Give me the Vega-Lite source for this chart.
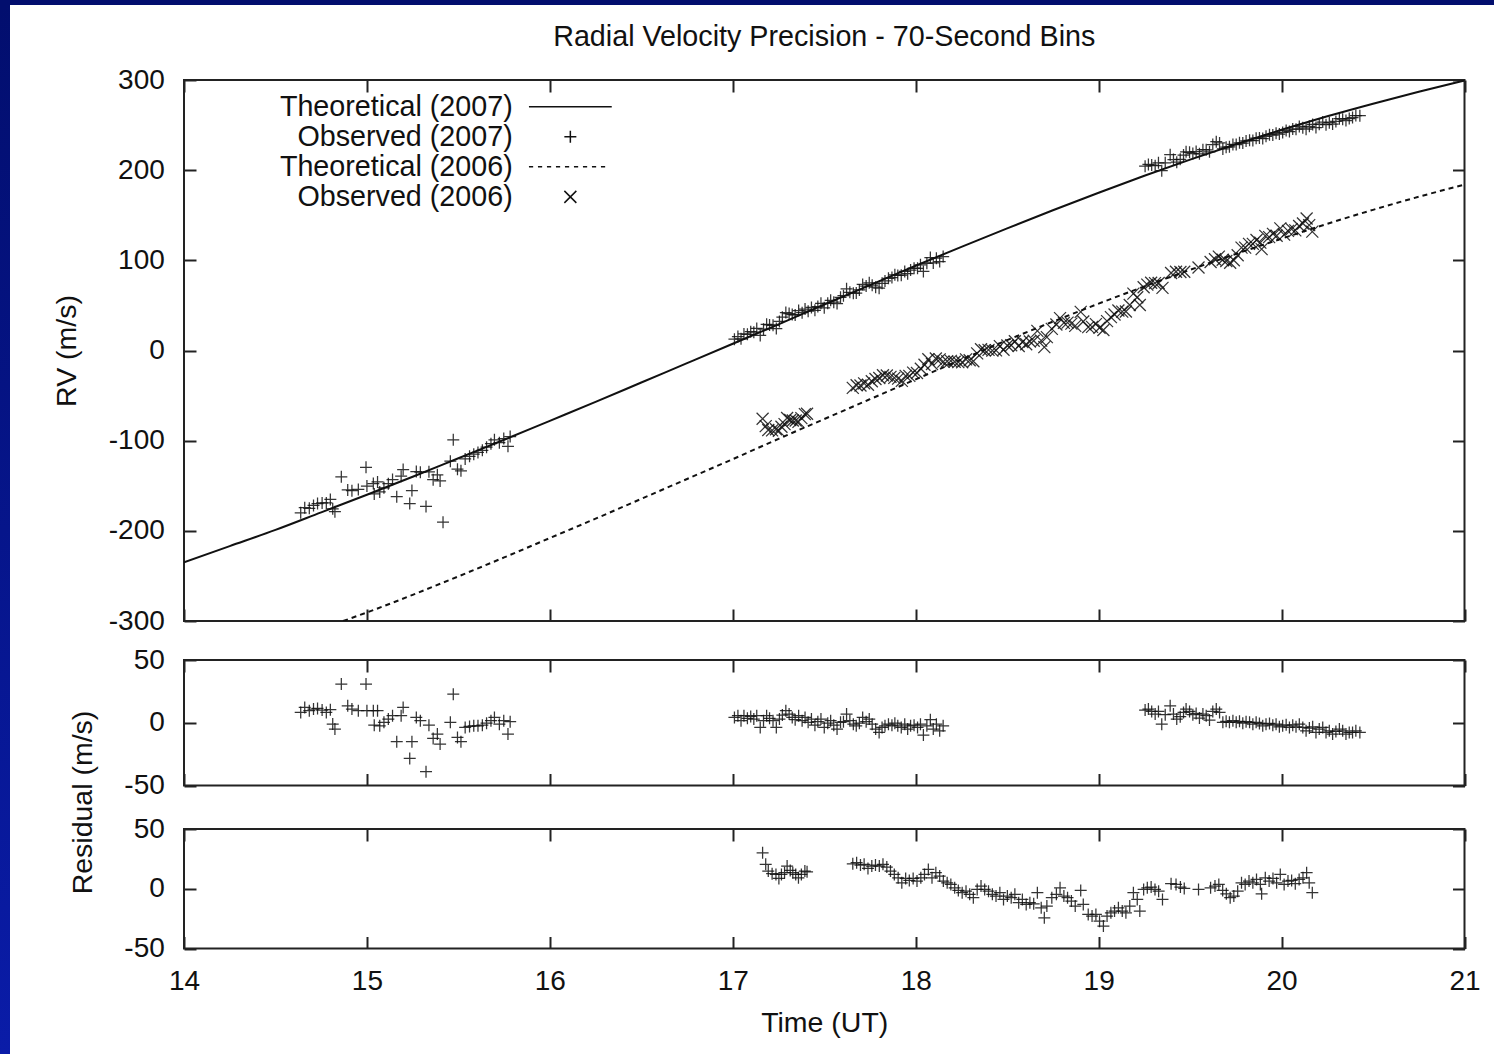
{
  "$schema": "https://vega.github.io/schema/vega-lite/v6.json",
  "background": "white",
  "padding": 0,
  "autosize": {"type": "pad"},
  "bounds": "flush",
  "spacing": 0,
  "config": {
    "font": "Liberation Sans",
    "view": {"stroke": "#222", "strokeWidth": 2},
    "axis": {"domain": false, "grid": false, "ticks": true, "tickSize": -12, "tickWidth": 2, "tickColor": "#222", "labelFontSize": 28, "labelColor": "#111", "labelFlush": false, "labelOverlap": false, "titleFontSize": 28.5, "titleColor": "#111", "titleFontWeight": "normal", "labelPadding": 31.7, "labelExpr": "replace(datum.label, '\u2212', '-')"}
  },
  "datasets": {
    "th07": [
      {"t":14.0,"rv":-235},{"t":14.25,"rv":-217},{"t":14.5,"rv":-199},{"t":14.75,"rv":-179.5},{"t":15.0,"rv":-160},{"t":15.25,"rv":-140},{"t":15.5,"rv":-119.5},{"t":15.75,"rv":-99},{"t":16.0,"rv":-78},{"t":16.25,"rv":-57},{"t":16.5,"rv":-35.5},{"t":16.75,"rv":-14},{"t":17.0,"rv":7.5},{"t":17.25,"rv":29},{"t":17.5,"rv":51},{"t":17.75,"rv":72.5},{"t":18.0,"rv":94},{"t":18.25,"rv":115},{"t":18.5,"rv":135.5},{"t":18.75,"rv":155.5},{"t":19.0,"rv":175},{"t":19.25,"rv":193.75},{"t":19.5,"rv":211.75},{"t":19.75,"rv":228.75},{"t":20.0,"rv":244.75},{"t":20.25,"rv":259.75},{"t":20.5,"rv":273.75},{"t":20.75,"rv":287},{"t":21.0,"rv":299.5}
    ],
    "th06": [
      {"t":14.87,"rv":-300},{"t":15.0,"rv":-290.5},{"t":15.25,"rv":-271},{"t":15.5,"rv":-250.5},{"t":15.75,"rv":-229.5},{"t":16.0,"rv":-208},{"t":16.25,"rv":-186.5},{"t":16.5,"rv":-164.5},{"t":16.75,"rv":-142.5},{"t":17.0,"rv":-120.5},{"t":17.25,"rv":-98},{"t":17.5,"rv":-76},{"t":17.75,"rv":-54},{"t":18.0,"rv":-32},{"t":18.25,"rv":-10},{"t":18.5,"rv":11.5},{"t":18.75,"rv":32},{"t":19.0,"rv":52},{"t":19.25,"rv":71},{"t":19.5,"rv":89.5},{"t":19.75,"rv":107},{"t":20.0,"rv":124},{"t":20.25,"rv":140.5},{"t":20.5,"rv":156},{"t":20.75,"rv":170.5},{"t":21.0,"rv":184}
    ],
    "obs07": [
      {"t":14.638,"rv":-180.0,"res":8.2},{"t":14.66,"rv":-174.3,"res":12.2},{"t":14.685,"rv":-175.0,"res":9.6},{"t":14.708,"rv":-171.9,"res":10.9},{"t":14.73,"rv":-169.7,"res":11.4},{"t":14.755,"rv":-169.0,"res":10.1},{"t":14.778,"rv":-169.1,"res":8.2},{"t":14.8,"rv":-165.2,"res":10.4},{"t":14.813,"rv":-175.6,"res":-1.0},{"t":14.825,"rv":-178.7,"res":-5.0},{"t":14.86,"rv":-140.1,"res":30.8},{"t":14.895,"rv":-154.7,"res":13.5},{"t":14.918,"rv":-155.5,"res":10.9},{"t":14.953,"rv":-154.1,"res":9.6},{"t":14.995,"rv":-129.6,"res":30.8},{"t":15.0,"rv":-150.4,"res":9.6},{"t":15.035,"rv":-147.6,"res":9.6},{"t":15.058,"rv":-145.8,"res":9.6},{"t":15.04,"rv":-159.1,"res":-1.9},{"t":15.07,"rv":-156.8,"res":-2.4},{"t":15.093,"rv":-152.3,"res":0.3},{"t":15.117,"rv":-147.7,"res":2.9},{"t":15.14,"rv":-143.2,"res":5.6},{"t":15.163,"rv":-162.1,"res":-15.1},{"t":15.187,"rv":-139.4,"res":5.6},{"t":15.198,"rv":-132.0,"res":12.2},{"t":15.234,"rv":-169.7,"res":-28.4},{"t":15.246,"rv":-155.4,"res":-15.1},{"t":15.27,"rv":-134.2,"res":4.2},{"t":15.292,"rv":-135.0,"res":1.6},{"t":15.323,"rv":-173.0,"res":-39.0},{"t":15.339,"rv":-134.6,"res":-1.9},{"t":15.362,"rv":-143.3,"res":-12.5},{"t":15.385,"rv":-137.9,"res":-9.0},{"t":15.4,"rv":-144.7,"res":-17.0},{"t":15.416,"rv":-190.4,"res":-64.0},{"t":15.456,"rv":-122.8,"res":0.3},{"t":15.472,"rv":-99.0,"res":22.8},{"t":15.495,"rv":-131.6,"res":-11.7},{"t":15.514,"rv":-133.5,"res":-15.1},{"t":15.537,"rv":-120.2,"res":-3.7},{"t":15.561,"rv":-117.4,"res":-2.9},{"t":15.584,"rv":-115.0,"res":-2.4},{"t":15.607,"rv":-113.1,"res":-2.4},{"t":15.631,"rv":-110.7,"res":-1.9},{"t":15.654,"rv":-107.2,"res":-0.3},{"t":15.678,"rv":-103.3,"res":1.6},{"t":15.697,"rv":-99.1,"res":4.2},{"t":15.724,"rv":-102.2,"res":-1.1},{"t":15.748,"rv":-97.6,"res":1.6},{"t":15.771,"rv":-106.2,"res":-9.0},{"t":15.783,"rv":-95.4,"res":0.8},
      {"t":17.009,"rv":12.5,"res":4.2},{"t":17.028,"rv":15.5,"res":5.6},{"t":17.045,"rv":13.0,"res":1.6},{"t":17.061,"rv":18.3,"res":5.6},{"t":17.08,"rv":17.9,"res":3.5},{"t":17.098,"rv":20.9,"res":5.0},{"t":17.115,"rv":20.3,"res":2.9},{"t":17.131,"rv":24.4,"res":5.6},{"t":17.15,"rv":16.7,"res":-3.7},{"t":17.168,"rv":23.6,"res":1.6},{"t":17.185,"rv":29.0,"res":5.6},{"t":17.201,"rv":28.3,"res":3.5},{"t":17.22,"rv":28.0,"res":1.6},{"t":17.238,"rv":24.3,"res":-3.7},{"t":17.255,"rv":32.3,"res":2.9},{"t":17.271,"rv":36.9,"res":6.1},{"t":17.29,"rv":42.1,"res":9.6},{"t":17.308,"rv":41.0,"res":6.9},{"t":17.325,"rv":39.8,"res":4.2},{"t":17.341,"rv":39.4,"res":2.4},{"t":17.36,"rv":44.3,"res":5.6},{"t":17.379,"rv":42.0,"res":1.6},{"t":17.395,"rv":46.0,"res":4.2},{"t":17.412,"rv":43.6,"res":0.3},{"t":17.43,"rv":47.7,"res":2.9},{"t":17.449,"rv":44.6,"res":-1.9},{"t":17.465,"rv":48.7,"res":0.8},{"t":17.482,"rv":52.3,"res":2.9},{"t":17.5,"rv":47.3,"res":-3.7},{"t":17.519,"rv":52.3,"res":-0.3},{"t":17.535,"rv":55.6,"res":1.6},{"t":17.552,"rv":53.6,"res":-1.9},{"t":17.57,"rv":52.0,"res":-5.0},{"t":17.589,"rv":59.0,"res":0.3},{"t":17.605,"rv":60.8,"res":0.8},{"t":17.622,"rv":68.4,"res":6.9},{"t":17.64,"rv":64.6,"res":1.6},{"t":17.659,"rv":63.6,"res":-1.1},{"t":17.675,"rv":63.7,"res":-2.4},{"t":17.692,"rv":67.2,"res":-0.3},{"t":17.71,"rv":73.3,"res":4.2},{"t":17.729,"rv":71.5,"res":0.8},{"t":17.746,"rv":75.1,"res":2.9},{"t":17.762,"rv":72.4,"res":-1.1},{"t":17.781,"rv":70.2,"res":-5.0},{"t":17.8,"rv":69.1,"res":-7.7},{"t":17.816,"rv":74.5,"res":-3.7},{"t":17.832,"rv":77.2,"res":-2.4},{"t":17.851,"rv":80.1,"res":-1.1},{"t":17.87,"rv":80.9,"res":-1.9},{"t":17.886,"rv":83.9,"res":-0.3},{"t":17.902,"rv":83.2,"res":-2.4},{"t":17.921,"rv":83.5,"res":-3.7},{"t":17.94,"rv":87.7,"res":-1.1},{"t":17.956,"rv":85.2,"res":-5.0},{"t":17.972,"rv":89.2,"res":-2.4},{"t":17.991,"rv":91.3,"res":-1.9},{"t":18.01,"rv":91.1,"res":-3.7},{"t":18.026,"rv":95.1,"res":-1.1},{"t":18.042,"rv":87.7,"res":-9.8},{"t":18.061,"rv":96.7,"res":-2.4},{"t":18.08,"rv":103.1,"res":2.4},{"t":18.096,"rv":97.1,"res":-5.0},{"t":18.113,"rv":102.4,"res":-1.1},{"t":18.131,"rv":98.6,"res":-6.4},{"t":18.15,"rv":104.2,"res":-2.4},
      {"t":19.254,"rv":204.4,"res":10.1},{"t":19.272,"rv":206.4,"res":10.9},{"t":19.29,"rv":205.7,"res":9.0},{"t":19.309,"rv":204.9,"res":6.9},{"t":19.327,"rv":208.2,"res":9.0},{"t":19.345,"rv":199.4,"res":-1.1},{"t":19.364,"rv":208.2,"res":6.4},{"t":19.391,"rv":217.1,"res":13.5},{"t":19.409,"rv":211.7,"res":6.9},{"t":19.427,"rv":208.9,"res":2.9},{"t":19.446,"rv":212.1,"res":4.8},{"t":19.464,"rv":216.8,"res":8.2},{"t":19.478,"rv":220.4,"res":10.9},{"t":19.497,"rv":219.8,"res":9.0},{"t":19.515,"rv":218.4,"res":6.4},{"t":19.533,"rv":220.6,"res":7.4},{"t":19.551,"rv":218.2,"res":3.7},{"t":19.57,"rv":222.7,"res":6.9},{"t":19.588,"rv":222.6,"res":5.6},{"t":19.606,"rv":220.3,"res":2.1},{"t":19.624,"rv":228.4,"res":9.0},{"t":19.643,"rv":231.6,"res":10.9},{"t":19.661,"rv":230.2,"res":8.2},{"t":19.679,"rv":223.5,"res":0.3},{"t":19.697,"rv":225.5,"res":1.1},{"t":19.715,"rv":225.9,"res":0.3},{"t":19.734,"rv":228.5,"res":1.6},{"t":19.752,"rv":228.4,"res":0.3},{"t":19.77,"rv":230.4,"res":1.1},{"t":19.788,"rv":230.1,"res":-0.3},{"t":19.806,"rv":232.4,"res":0.8},{"t":19.825,"rv":233.1,"res":0.3},{"t":19.843,"rv":232.9,"res":-1.1},{"t":19.861,"rv":235.4,"res":0.3},{"t":19.879,"rv":235.8,"res":-0.5},{"t":19.897,"rv":235.0,"res":-2.4},{"t":19.915,"rv":237.5,"res":-1.1},{"t":19.934,"rv":239.3,"res":-0.5},{"t":19.952,"rv":239.0,"res":-1.9},{"t":19.97,"rv":241.0,"res":-1.1},{"t":19.988,"rv":240.0,"res":-3.2},{"t":20.006,"rv":241.9,"res":-2.4},{"t":20.025,"rv":243.9,"res":-1.6},{"t":20.043,"rv":242.8,"res":-3.7},{"t":20.061,"rv":245.6,"res":-1.9},{"t":20.079,"rv":245.4,"res":-3.2},{"t":20.097,"rv":248.5,"res":-1.1},{"t":20.116,"rv":247.0,"res":-3.7},{"t":20.134,"rv":245.4,"res":-6.4},{"t":20.152,"rv":248.6,"res":-4.2},{"t":20.17,"rv":250.7,"res":-3.2},{"t":20.188,"rv":247.2,"res":-7.7},{"t":20.206,"rv":251.0,"res":-5.0},{"t":20.225,"rv":253.4,"res":-3.7},{"t":20.243,"rv":250.4,"res":-7.7},{"t":20.261,"rv":252.7,"res":-6.4},{"t":20.279,"rv":251.1,"res":-9.0},{"t":20.297,"rv":254.1,"res":-6.9},{"t":20.316,"rv":257.1,"res":-5.0},{"t":20.334,"rv":256.6,"res":-6.4},{"t":20.352,"rv":255.0,"res":-9.0},{"t":20.37,"rv":257.3,"res":-7.7},{"t":20.388,"rv":258.3,"res":-7.7},{"t":20.406,"rv":260.5,"res":-6.4},{"t":20.428,"rv":260.4,"res":-7.7}
    ],
    "obs06": [
      {"t":17.163,"rv":-75.7,"res":30.1},{"t":17.18,"rv":-83.9,"res":20.4},{"t":17.194,"rv":-88.2,"res":14.8},{"t":17.215,"rv":-88.6,"res":12.6},{"t":17.236,"rv":-87.3,"res":12.0},{"t":17.252,"rv":-89.2,"res":8.6},{"t":17.266,"rv":-84.6,"res":12.0},{"t":17.283,"rv":-81.7,"res":13.4},{"t":17.297,"rv":-74.9,"res":19.0},{"t":17.314,"rv":-77.1,"res":15.3},{"t":17.328,"rv":-77.7,"res":13.4},{"t":17.344,"rv":-77.7,"res":12.0},{"t":17.359,"rv":-79.2,"res":9.2},{"t":17.375,"rv":-75.0,"res":12.0},{"t":17.394,"rv":-70.5,"res":14.8},{"t":17.406,"rv":-70.1,"res":14.2},
      {"t":17.656,"rv":-41.4,"res":20.9},{"t":17.677,"rv":-38.6,"res":21.8},{"t":17.698,"rv":-38.8,"res":19.8},{"t":17.718,"rv":-36.4,"res":20.4},{"t":17.739,"rv":-38.0,"res":17.0},{"t":17.76,"rv":-34.1,"res":19.0},{"t":17.78,"rv":-31.6,"res":19.8},{"t":17.801,"rv":-30.5,"res":19.0},{"t":17.821,"rv":-27.4,"res":20.4},{"t":17.842,"rv":-27.8,"res":18.1},{"t":17.862,"rv":-29.3,"res":14.8},{"t":17.883,"rv":-30.3,"res":12.0},{"t":17.904,"rv":-31.2,"res":9.2},{"t":17.924,"rv":-33.7,"res":5.0},{"t":17.945,"rv":-28.2,"res":8.6},{"t":17.965,"rv":-28.1,"res":7.0},{"t":17.986,"rv":-24.6,"res":8.6},{"t":18.007,"rv":-25.0,"res":6.4},{"t":18.028,"rv":-20.3,"res":9.2},{"t":18.048,"rv":-15.8,"res":12.0},{"t":18.069,"rv":-9.7,"res":16.2},{"t":18.089,"rv":-15.0,"res":9.2},{"t":18.11,"rv":-8.9,"res":13.4},{"t":18.131,"rv":-9.9,"res":10.6},{"t":18.151,"rv":-12.3,"res":6.4},{"t":18.172,"rv":-11.9,"res":5.0},{"t":18.192,"rv":-11.5,"res":3.6},{"t":18.213,"rv":-12.5,"res":0.8},{"t":18.233,"rv":-12.9,"res":-1.4},{"t":18.254,"rv":-13.0,"res":-3.3},{"t":18.275,"rv":-9.9,"res":-2.0},{"t":18.295,"rv":-10.8,"res":-4.7},{"t":18.315,"rv":-11.9,"res":-7.5},{"t":18.336,"rv":-3.2,"res":-0.6},{"t":18.357,"rv":1.4,"res":2.2},{"t":18.377,"rv":0.3,"res":-0.6},{"t":18.398,"rv":0.7,"res":-2.0},{"t":18.419,"rv":-0.2,"res":-4.7},{"t":18.439,"rv":0.2,"res":-6.1},{"t":18.46,"rv":4.8,"res":-3.3},{"t":18.48,"rv":0.9,"res":-8.9},{"t":18.501,"rv":5.5,"res":-6.1},{"t":18.522,"rv":5.8,"res":-7.5},{"t":18.542,"rv":10.2,"res":-4.7},{"t":18.563,"rv":5.0,"res":-11.7},{"t":18.583,"rv":9.4,"res":-8.9},{"t":18.604,"rv":6.9,"res":-13.1},{"t":18.624,"rv":10.0,"res":-11.7},{"t":18.645,"rv":10.8,"res":-12.6},{"t":18.665,"rv":21.8,"res":-3.3},{"t":18.686,"rv":10.9,"res":-15.9},{"t":18.703,"rv":3.8,"res":-24.3},{"t":18.717,"rv":14.8,"res":-14.5},{"t":18.744,"rv":24.0,"res":-7.5},{"t":18.769,"rv":28.8,"res":-4.7},{"t":18.789,"rv":35.9,"res":0.8},{"t":18.81,"rv":30.7,"res":-6.1},{"t":18.83,"rv":30.9,"res":-7.5},{"t":18.851,"rv":29.8,"res":-10.3},{"t":18.872,"rv":27.3,"res":-14.5},{"t":18.902,"rv":42.8,"res":-1.4},{"t":18.916,"rv":32.2,"res":-13.1},{"t":18.943,"rv":25.9,"res":-21.5},{"t":18.964,"rv":26.2,"res":-22.9},{"t":18.985,"rv":29.3,"res":-21.5},{"t":19.005,"rv":25.3,"res":-27.1},{"t":19.026,"rv":22.8,"res":-31.2},{"t":19.046,"rv":32.6,"res":-22.9},{"t":19.067,"rv":37.0,"res":-20.1},{"t":19.087,"rv":39.9,"res":-18.7},{"t":19.108,"rv":44.3,"res":-15.9},{"t":19.129,"rv":43.1,"res":-18.7},{"t":19.149,"rv":43.2,"res":-20.1},{"t":19.17,"rv":50.4,"res":-14.5},{"t":19.19,"rv":63.1,"res":-3.3},{"t":19.211,"rv":59.1,"res":-8.9},{"t":19.225,"rv":50.4,"res":-18.7},{"t":19.246,"rv":70.1,"res":-0.6},{"t":19.266,"rv":73.0,"res":0.8},{"t":19.287,"rv":75.1,"res":1.4},{"t":19.308,"rv":74.7,"res":-0.6},{"t":19.328,"rv":74.8,"res":-2.0},{"t":19.349,"rv":69.4,"res":-8.9},{"t":19.396,"rv":86.0,"res":4.2},{"t":19.423,"rv":87.4,"res":3.6},{"t":19.447,"rv":87.0,"res":1.4},{"t":19.468,"rv":87.4,"res":0.3},{"t":19.546,"rv":92.1,"res":-0.6},{"t":19.612,"rv":98.1,"res":0.8},{"t":19.636,"rv":101.2,"res":2.2},{"t":19.657,"rv":104.1,"res":3.6},{"t":19.678,"rv":100.6,"res":-1.4},{"t":19.698,"rv":99.2,"res":-4.2},{"t":19.719,"rv":97.3,"res":-7.5},{"t":19.739,"rv":100.1,"res":-6.1},{"t":19.76,"rv":105.7,"res":-2.0},{"t":19.781,"rv":114.1,"res":5.0},{"t":19.801,"rv":114.1,"res":3.6},{"t":19.822,"rv":118.3,"res":6.4},{"t":19.843,"rv":118.3,"res":5.0},{"t":19.863,"rv":122.5,"res":7.8},{"t":19.884,"rv":119.7,"res":3.6},{"t":19.891,"rv":112.4,"res":-4.2},{"t":19.911,"rv":127.1,"res":9.2},{"t":19.932,"rv":125.8,"res":6.4},{"t":19.953,"rv":129.4,"res":8.6},{"t":19.973,"rv":127.2,"res":5.0},{"t":19.993,"rv":135.5,"res":12.0},{"t":20.014,"rv":128.5,"res":3.6},{"t":20.035,"rv":132.7,"res":6.4},{"t":20.055,"rv":134.6,"res":7.0},{"t":20.075,"rv":133.2,"res":4.2},{"t":20.096,"rv":138.1,"res":7.8},{"t":20.117,"rv":140.9,"res":9.2},{"t":20.137,"rv":146.4,"res":13.4},{"t":20.151,"rv":139.0,"res":5.0},{"t":20.168,"rv":131.8,"res":-3.3}
    ]
  },
  "vconcat": [
    {
      "width": 1494, "height": 5,
      "data": {"values": []},
      "mark": {"type": "point", "opacity": 0},
      "encoding": {},
      "view": {"fill": "#020e6e", "stroke": null}
    },
    {
      "bounds": "flush",
      "spacing": 174,
      "hconcat": [
        {
          "width": 10, "height": 1049,
          "data": {"values": []},
          "mark": {"type": "point", "opacity": 0},
          "encoding": {},
          "view": {"fill": {"gradient": "linear", "x1": 0, "y1": 0, "x2": 0, "y2": 1, "stops": [{"offset": 0, "color": "#020e6e"}, {"offset": 1, "color": "#0a1ca8"}]}, "stroke": null}
        },
        {
          "bounds": "flush",
          "spacing": 0,
          "vconcat": [
            {
              "width": 1280.5, "height": 74.5,
              "data": {"values": []},
              "mark": {"type": "point", "opacity": 0},
              "encoding": {},
              "view": {"stroke": null}
            },
            {
              "bounds": "flush",
              "spacing": 39,
              "vconcat": [
                {
                  "width": 1280.5, "height": 541,
                  "title": {"text": "Radial Velocity Precision - 70-Second Bins", "fontSize": 28.7, "fontWeight": "normal", "anchor": "middle", "frame": "group", "offset": -9, "baseline": "alphabetic", "color": "#111"},
                  "resolve": {"axis": {"x": "independent", "y": "independent"}},
                  "layer": [
                    {
                      "data": {"name": "th07"},
                      "mark": {"type": "line", "color": "#111", "strokeWidth": 2, "interpolate": "monotone", "clip": true},
                      "encoding": {
                        "x": {"field": "t", "type": "quantitative", "scale": {"domain": [14, 21], "nice": false, "zero": false}, "axis": {"orient": "bottom", "values": [14,15,16,17,18,19,20,21], "labels": false, "title": null}},
                        "y": {"field": "rv", "type": "quantitative", "scale": {"domain": [-300, 300], "nice": false, "zero": false}, "axis": {"orient": "left", "values": [-300,-200,-100,0,100,200,300], "title": "RV (m/s)", "titleX": -109, "titleY": 270.5, "titleAngle": -90, "titleBaseline": "alphabetic", "titleAlign": "center"}}
                      }
                    },
                    {
                      "data": {"name": "th06"},
                      "mark": {"type": "line", "color": "#111", "strokeWidth": 2, "strokeDash": [5, 4], "interpolate": "monotone", "clip": true},
                      "encoding": {
                        "x": {"field": "t", "type": "quantitative", "scale": {"domain": [14, 21], "nice": false, "zero": false}, "axis": {"orient": "top", "values": [14,15,16,17,18,19,20,21], "labels": false, "title": null}},
                        "y": {"field": "rv", "type": "quantitative", "scale": {"domain": [-300, 300], "nice": false, "zero": false}, "axis": {"orient": "right", "values": [-300,-200,-100,0,100,200,300], "labels": false, "title": null}}
                      }
                    },
                    {
                      "data": {"name": "obs07"},
                      "mark": {"type": "point", "filled": false, "size": 144, "strokeWidth": 1.25, "color": "#111", "opacity": 0.85, "clip": true},
                      "encoding": {
                        "x": {"field": "t", "type": "quantitative", "scale": {"domain": [14, 21], "nice": false, "zero": false}, "axis": null},
                        "y": {"field": "rv", "type": "quantitative", "scale": {"domain": [-300, 300], "nice": false, "zero": false}, "axis": null},
                        "shape": {
                          "datum": "Observed (2007)", "type": "nominal",
                          "scale": {"domain": ["Theoretical (2007)", "Observed (2007)", "Theoretical (2006)", "Observed (2006)"], "range": ["M-6.9,0L6.9,0", "M-1,0L1,0M0,-1L0,1", "M-6.9,0L-6.2,0M-5.4,0L-4.7,0M-3.9,0L-3.2,0M-2.4,0L-1.7,0M-0.9,0L-0.2,0M0.6,0L1.3,0M2.1,0L2.8,0M3.6,0L4.3,0M5.1,0L5.8,0", "M-1,-1L1,1M-1,1L1,-1"]},
                          "legend": {"orient": "none", "legendX": 260, "legendY": 92.5, "title": null, "labelFontSize": 28.7, "labelColor": "#111", "labelLimit": 400, "labelAlign": "right", "labelOffset": -72, "symbolOffset": 296, "symbolSize": 144, "symbolStrokeWidth": 1.5, "symbolStrokeColor": "#111", "symbolFillColor": "transparent", "symbolOpacity": 1, "rowPadding": -1.5, "padding": 0}
                        }
                      }
                    },
                    {
                      "data": {"name": "obs06"},
                      "mark": {"type": "point", "filled": false, "size": 144, "strokeWidth": 1.25, "color": "#111", "opacity": 0.85, "clip": true},
                      "encoding": {
                        "x": {"field": "t", "type": "quantitative", "scale": {"domain": [14, 21], "nice": false, "zero": false}, "axis": null},
                        "y": {"field": "rv", "type": "quantitative", "scale": {"domain": [-300, 300], "nice": false, "zero": false}, "axis": null},
                        "shape": {"datum": "Observed (2006)", "type": "nominal"}
                      }
                    }
                  ]
                },
                {
                  "bounds": "flush",
                  "spacing": 43,
                  "vconcat": [
                    {
                      "width": 1280.5, "height": 125.5,
                      "resolve": {"axis": {"x": "independent", "y": "independent"}},
                      "layer": [
                        {
                          "mark": {"type": "rule", "color": "#999", "strokeWidth": 1.6},
                          "encoding": {
                            "y": {"datum": 0, "type": "quantitative", "scale": {"domain": [-50, 50], "nice": false, "zero": false}, "axis": {"orient": "right", "values": [-50, 0, 50], "labels": false, "title": null}}
                          }
                        },
                        {
                          "data": {"name": "obs07"},
                          "mark": {"type": "point", "filled": false, "size": 144, "strokeWidth": 1.25, "color": "#111", "opacity": 0.85, "clip": true, "shape": "M-1,0L1,0M0,-1L0,1"},
                          "encoding": {
                            "x": {"field": "t", "type": "quantitative", "scale": {"domain": [14, 21], "nice": false, "zero": false}, "axis": {"orient": "bottom", "values": [14,15,16,17,18,19,20,21], "labels": false, "title": null}},
                            "y": {"field": "res", "type": "quantitative", "scale": {"domain": [-50, 50], "nice": false, "zero": false}, "axis": {"orient": "left", "values": [-50, 0, 50], "title": "Residual (m/s)", "titleX": -92.3, "titleY": 142, "titleAngle": -90, "titleBaseline": "alphabetic", "titleAlign": "center"}}
                          }
                        },
                        {
                          "data": {"name": "obs07"},
                          "mark": {"type": "point", "opacity": 0},
                          "encoding": {
                            "x": {"field": "t", "type": "quantitative", "scale": {"domain": [14, 21], "nice": false, "zero": false}, "axis": {"orient": "top", "values": [14,15,16,17,18,19,20,21], "labels": false, "title": null}},
                            "y": {"field": "res", "type": "quantitative", "scale": {"domain": [-50, 50], "nice": false, "zero": false}, "axis": null}
                          }
                        }
                      ]
                    },
                    {
                      "width": 1280.5, "height": 119.5,
                      "resolve": {"axis": {"x": "independent", "y": "independent"}},
                      "layer": [
                        {
                          "mark": {"type": "rule", "color": "#888", "strokeWidth": 1.6, "strokeDash": [7, 4.5]},
                          "encoding": {
                            "y": {"datum": 0, "type": "quantitative", "scale": {"domain": [-50, 50], "nice": false, "zero": false}, "axis": {"orient": "right", "values": [-50, 0, 50], "labels": false, "title": null}}
                          }
                        },
                        {
                          "data": {"name": "obs06"},
                          "mark": {"type": "point", "filled": false, "size": 144, "strokeWidth": 1.25, "color": "#111", "opacity": 0.85, "clip": true, "shape": "M-1,0L1,0M0,-1L0,1"},
                          "encoding": {
                            "x": {"field": "t", "type": "quantitative", "scale": {"domain": [14, 21], "nice": false, "zero": false}, "axis": {"orient": "bottom", "values": [14,15,16,17,18,19,20,21], "labelPadding": 30.5, "title": "Time (UT)", "titleY": 83, "titleBaseline": "alphabetic", "titleAlign": "center"}},
                            "y": {"field": "res", "type": "quantitative", "scale": {"domain": [-50, 50], "nice": false, "zero": false}, "axis": {"orient": "left", "values": [-50, 0, 50], "title": null}}
                          }
                        },
                        {
                          "data": {"name": "obs06"},
                          "mark": {"type": "point", "opacity": 0},
                          "encoding": {
                            "x": {"field": "t", "type": "quantitative", "scale": {"domain": [14, 21], "nice": false, "zero": false}, "axis": {"orient": "top", "values": [14,15,16,17,18,19,20,21], "labels": false, "title": null}},
                            "y": {"field": "res", "type": "quantitative", "scale": {"domain": [-50, 50], "nice": false, "zero": false}, "axis": null}
                          }
                        }
                      ]
                    }
                  ]
                }
              ]
            }
          ]
        }
      ]
    }
  ]
}
